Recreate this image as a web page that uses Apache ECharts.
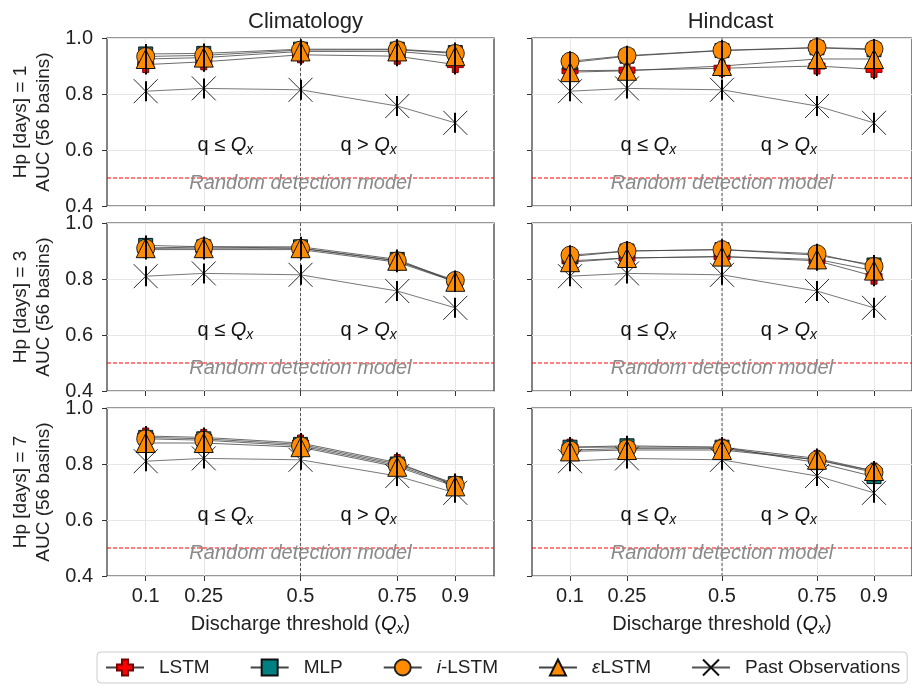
<!DOCTYPE html>
<html>
<head>
<meta charset="utf-8">
<script src="https://cdn.jsdelivr.net/npm/echarts@6/dist/echarts.min.js"></script>
<style>
  html, body { margin: 0; padding: 0; background: #fff; }
  #chart { width: 912px; height: 685px; }
</style>
</head>
<body>
<div id="chart"></div>
<script>
// discharge thresholds (x positions and tick labels)
const thresholds = [0.1, 0.25, 0.5, 0.75, 0.9];
const columns = ['Climatology', 'Hindcast'];
const leadTimes = [1, 3, 7];
const yRange = [0.4, 1.0];
const randomAUC = 0.5;   // random detection model
const splitQ = 0.5;      // q <= Qx | q > Qx boundary

// AUC values, one row per lead time (1, 3, 7 days)
const lstmClim = [
  [0.905, 0.915, 0.94, 0.935, 0.905],
  [0.905, 0.905, 0.905, 0.86, 0.79],
  [0.9, 0.895, 0.875, 0.805, 0.725]
];
const mlpClim = [
  [0.943, 0.945, 0.96, 0.96, 0.948],
  [0.92, 0.915, 0.915, 0.87, 0.79],
  [0.895, 0.89, 0.87, 0.8, 0.73]
];
const ilstmClim = [
  [0.934, 0.938, 0.957, 0.958, 0.945],
  [0.91, 0.915, 0.91, 0.865, 0.795],
  [0.89, 0.885, 0.865, 0.795, 0.725]
];
const elstmClim = [
  [0.925, 0.93, 0.952, 0.952, 0.935],
  [0.91, 0.91, 0.91, 0.865, 0.79],
  [0.875, 0.875, 0.86, 0.79, 0.72]
];

const lstmHind = [
  [0.883, 0.885, 0.892, 0.9, 0.888],
  [0.865, 0.875, 0.88, 0.865, 0.81],
  [0.86, 0.86, 0.86, 0.82, 0.775]
];
const mlpHind = [
  [0.912, 0.935, 0.955, 0.965, 0.958],
  [0.88, 0.9, 0.905, 0.885, 0.85],
  [0.86, 0.865, 0.86, 0.805, 0.755]
];
const ilstmHind = [
  [0.917, 0.937, 0.956, 0.966, 0.961],
  [0.885, 0.9, 0.905, 0.89, 0.845],
  [0.85, 0.855, 0.855, 0.815, 0.77]
];
const elstmHind = [
  [0.878, 0.883, 0.9, 0.925, 0.925],
  [0.86, 0.875, 0.88, 0.87, 0.83],
  [0.845, 0.85, 0.85, 0.815, 0.775]
];

// persistence baseline, same in every panel
const pastObs = [0.81, 0.82, 0.815, 0.757, 0.697];

const FONT = 'Liberation Sans, Arial, sans-serif';
const PAST = 'Past Observations';

const models = [
  { name: 'LSTM', clim: lstmClim, hind: lstmHind,
    symbol: 'path://M5,0H11V5H16V11H11V16H5V11H0V5H5Z', size: 16,
    style: { color: '#ff0000', borderColor: '#7a0000', borderWidth: 1 } },
  { name: 'MLP', clim: mlpClim, hind: mlpHind, symbol: 'rect', size: 14,
    style: { color: '#008080', borderColor: '#111', borderWidth: 1 } },
  { name: 'i-LSTM', clim: ilstmClim, hind: ilstmHind, symbol: 'circle', size: 18,
    style: { color: '#ff8c00', borderColor: '#222', borderWidth: 1 } },
  { name: 'εLSTM', clim: elstmClim, hind: elstmHind, symbol: 'triangle', size: 19,
    style: { color: '#ff8c00', borderColor: '#111', borderWidth: 1 } }
];
const crossPath = 'path://M0,0L10,10M10,0L0,10';

const gridLeft = [107, 532];
const gridTop = [38, 223, 408];
const gridW = 387;
const gridH = 168;

const grids = [], xAxes = [], yAxes = [], series = [];
const richQ = {
  q: { fontStyle: 'italic', fontSize: 20, fontFamily: FONT, color: '#111' },
  s: { fontStyle: 'italic', fontSize: 14, fontFamily: FONT, color: '#111', padding: [9, 0, 0, 0] }
};

const pairs = v => thresholds.map((t, i) => [t, v[i]]);

// short vertical spread bar through each marker
function renderWhisker(params, api) {
  const p = api.coord([api.value(0), api.value(1)]);
  const x = Math.round(p[0]);
  return {
    type: 'line',
    shape: { x1: x, y1: p[1] - 10, x2: x, y2: p[1] + 10 },
    style: { stroke: '#000', lineWidth: 2 }
  };
}

leadTimes.forEach((lt, r) => {
  columns.forEach((col, c) => {
    const g = r * 2 + c;
    grids.push({
      left: gridLeft[c], top: gridTop[r], width: gridW, height: gridH,
      show: true, borderColor: '#333', borderWidth: 1.2, backgroundColor: 'transparent'
    });
    xAxes.push({
      type: 'value', gridIndex: g, min: 0, max: 1,
      axisLine: { show: false },
      axisTick: { show: true, customValues: thresholds, length: 5, lineStyle: { color: '#333', width: 1 } },
      axisLabel: {
        show: r === 2, customValues: thresholds, formatter: v => String(v),
        fontSize: 20, fontFamily: FONT, color: '#222', margin: 10
      },
      splitLine: { show: true, lineStyle: { color: '#e6e6e6', width: 1 } },
      name: r === 2 ? 'Discharge threshold ({q|Q}{s|x})' : '',
      nameLocation: 'middle', nameGap: 37,
      nameTextStyle: { fontSize: 20, fontFamily: FONT, color: '#222', rich: richQ }
    });
    yAxes.push({
      type: 'value', gridIndex: g, min: yRange[0], max: yRange[1], interval: 0.2,
      axisLine: { show: false },
      axisTick: { show: true, length: 5, lineStyle: { color: '#333', width: 1 } },
      axisLabel: {
        show: c === 0, formatter: v => v.toFixed(1),
        fontSize: 20, fontFamily: FONT, color: '#222', margin: 14
      },
      splitLine: { show: true, lineStyle: { color: '#e6e6e6', width: 1 } },
      name: c === 0 ? 'Hp [days] = ' + lt + '\nAUC (56 basins)' : '',
      nameLocation: 'middle', nameRotate: 90, nameGap: 52,
      nameTextStyle: { fontSize: 19, fontFamily: FONT, color: '#222', lineHeight: 23 }
    });

    // past observations + text annotations
    series.push({
      name: PAST, type: 'line', xAxisIndex: g, yAxisIndex: g,
      data: pairs(pastObs),
      symbol: crossPath, symbolSize: 24, showAllSymbol: true,
      itemStyle: { color: 'rgba(0,0,0,0)', borderColor: '#111', borderWidth: 0.9 },
      lineStyle: { color: '#555', width: 0.8 },
      emphasis: { disabled: true },
      markPoint: {
        silent: true, symbol: 'circle', symbolSize: 1,
        itemStyle: { color: 'rgba(0,0,0,0)' },
        data: [
          { coord: [0.306, 0.616], label: { show: true, position: 'inside', formatter: 'q ≤ {q|Q}{s|x}',
            fontSize: 20, fontFamily: FONT, color: '#111', rich: richQ } },
          { coord: [0.676, 0.616], label: { show: true, position: 'inside', formatter: 'q > {q|Q}{s|x}',
            fontSize: 20, fontFamily: FONT, color: '#111', rich: richQ } },
          { coord: [0.5, 0.481], label: { show: true, position: 'inside', formatter: 'Random detection model',
            fontSize: 20, fontStyle: 'italic', fontFamily: FONT, color: '#8a8a8a' } }
        ]
      }
    });

    // reference lines
    series.push({
      name: PAST, type: 'line', xAxisIndex: g, yAxisIndex: g, z: 1,
      data: [[0, randomAUC], [1, randomAUC]], symbol: 'none',
      lineStyle: { color: '#ff0000', type: [4, 2], width: 1 },
      emphasis: { disabled: true }
    });
    series.push({
      name: PAST, type: 'line', xAxisIndex: g, yAxisIndex: g, z: 1,
      data: [[splitQ, yRange[0]], [splitQ, yRange[1]]], symbol: 'none',
      lineStyle: { color: '#555', type: [3, 2], width: 1 },
      emphasis: { disabled: true }
    });

    const whiskerPts = pairs(pastObs);
    models.forEach(m => {
      const vals = (c === 0 ? m.clim : m.hind)[r];
      whiskerPts.push(...pairs(vals));
      series.push({
        name: m.name, type: 'line', xAxisIndex: g, yAxisIndex: g,
        data: pairs(vals),
        symbol: m.symbol, symbolSize: m.size, showAllSymbol: true,
        itemStyle: m.style,
        lineStyle: { color: '#444', width: 0.8 },
        emphasis: { disabled: true }
      });
    });

    series.push({
      name: PAST, type: 'custom', xAxisIndex: g, yAxisIndex: g, z: 5,
      data: whiskerPts, renderItem: renderWhisker
    });
  });
});

const chart = echarts.init(document.getElementById('chart'), null, { renderer: 'canvas' });
chart.setOption({
  animation: false,
  backgroundColor: '#fff',
  title: columns.map((t, c) => ({
    text: t, left: gridLeft[c] + gridW / 2, top: 6, textAlign: 'center',
    textStyle: { fontSize: 22, fontWeight: 'normal', fontFamily: FONT, color: '#222' }
  })),
  legend: {
    data: ['LSTM', 'MLP', 'i-LSTM', 'εLSTM', PAST],
    left: 97, top: 652,
    padding: [6, 7, 6, 8],
    itemWidth: 38, itemHeight: 20, itemGap: 40,
    borderColor: '#cccccc', borderWidth: 1, borderRadius: 4,
    formatter: n => n === 'i-LSTM' ? '{it|i}-LSTM' : (n === 'εLSTM' ? '{it|ε}LSTM' : n),
    textStyle: {
      fontSize: 19, fontFamily: FONT, color: '#222', padding: [0, 0, 0, 10],
      rich: { it: { fontStyle: 'italic', fontSize: 19, fontFamily: FONT, color: '#222' } }
    }
  },
  grid: grids,
  xAxis: xAxes,
  yAxis: yAxes,
  series: series
});
window.addEventListener('resize', () => chart.resize());
</script>
</body>
</html>
